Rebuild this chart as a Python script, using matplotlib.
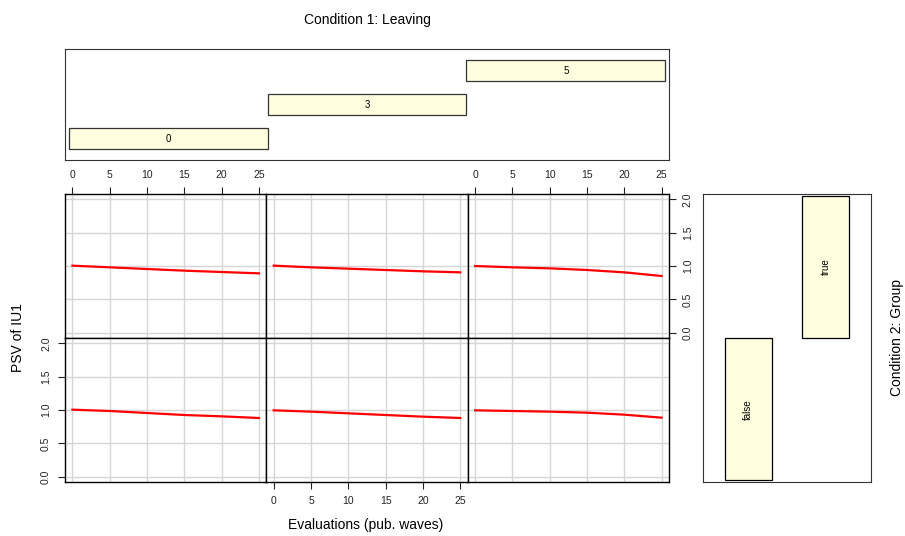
import matplotlib
matplotlib.use("Agg")
import matplotlib.pyplot as plt
import numpy as np

plt.rcParams['font.family'] = ['Liberation Sans', 'DejaVu Sans']

# data
waves = [0, 5, 10, 15, 20, 25]
leaving_levels = ["0", "3", "5"]
group_levels = ["false", "true"]
# psv[group][leaving]
psv = {
    "false": [
        [1.005, 0.985, 0.955, 0.925, 0.905, 0.88],
        [0.995, 0.975, 0.95, 0.925, 0.90, 0.88],
        [0.995, 0.985, 0.975, 0.96, 0.93, 0.885],
    ],
    "true": [
        [1.005, 0.98, 0.955, 0.93, 0.91, 0.89],
        [1.005, 0.98, 0.96, 0.94, 0.92, 0.905],
        [1.0, 0.98, 0.965, 0.94, 0.905, 0.85],
    ],
}

W, H = 905, 536
fig = plt.figure(figsize=(W / 100, H / 100), dpi=100)


def px_axes(x0, y0, x1, y1):
    return fig.add_axes([x0 / W, 1 - y1 / H, (x1 - x0) / W, (y1 - y0) / H])


bar_face = '#FFFFE0'
edge = '#333333'
tick_fs = 7.5

# top panel: Condition 1 given bars
ax = px_axes(65, 49.3, 669, 160)
n = len(leaving_levels)
ax.barh(np.arange(n), 1, left=np.arange(n), height=0.62, color=bar_face,
        edgecolor=edge, linewidth=0.9)
for i, lab in enumerate(leaving_levels):
    ax.text(i + 0.5, i, lab, ha='center', va='center', fontsize=7)
ax.set_xlim(-0.022, 3.02)
ax.set_ylim(-0.62, 2.63)
ax.set_xticks([])
ax.set_yticks([])
for s in ax.spines.values():
    s.set_color(edge)

# right panel: Condition 2 given bars
ax = px_axes(703, 194, 871, 482)
m = len(group_levels)
ax.bar(np.arange(m), 1, bottom=np.arange(m), width=0.6, color=bar_face,
       edgecolor='black', linewidth=0.9)
for i, lab in enumerate(group_levels):
    ax.text(i, i + 0.5, lab, ha='center', va='center', rotation=90, fontsize=7)
ax.set_xlim(-0.585, 1.585)
ax.set_ylim(-0.012, 2.014)
ax.set_xticks([])
ax.set_yticks([])
for s in ax.spines.values():
    s.set_color(edge)

# main panels
col_edges = [65, 266.3, 467.7, 669]
row_edges = [194, 338, 482]
rows = ["true", "false"]  # top row, bottom row
yt = [0.0, 0.5, 1.0, 1.5, 2.0]

for r, grp in enumerate(rows):
    for c in range(3):
        ax = px_axes(col_edges[c], row_edges[r], col_edges[c + 1], row_edges[r + 1])
        ax.set_xlim(-1, 26)
        ax.set_ylim(-0.08, 2.08)
        for xv in waves:
            ax.axvline(xv, color='#d6d6d6', lw=1, zorder=0)
        for yv in yt:
            ax.axhline(yv, color='#d6d6d6', lw=1, zorder=0)
        ax.plot(waves, psv[grp][c], color='red', lw=1.6, zorder=3)
        ax.set_xticks(waves)
        ax.set_yticks(yt)
        ax.set_yticklabels(["%.1f" % v for v in yt], rotation=90, va='center')
        show_top = (r == 0 and c in (0, 2))
        show_bottom = (r == 1 and c == 1)
        show_left = (r == 1 and c == 0)
        show_right = (r == 0 and c == 2)
        ax.tick_params(axis='x', direction='out', length=5, width=0.8,
                       labelsize=tick_fs, pad=5, colors='#222222',
                       top=show_top, labeltop=show_top,
                       bottom=show_bottom, labelbottom=show_bottom)
        ax.tick_params(axis='y', direction='out', length=5, width=0.8,
                       labelsize=tick_fs, pad=5, colors='#222222',
                       left=show_left, labelleft=show_left,
                       right=show_right, labelright=show_right)
        for s in ax.spines.values():
            s.set_color('black')
            s.set_linewidth(1.0)

fig.text(367 / W, 1 - 20 / H, "Condition 1: Leaving", ha='center', va='center', fontsize=10)
fig.text(366 / W, 1 - 525 / H, "Evaluations (pub. waves)", ha='center', va='center', fontsize=10)
fig.text(18 / W, 1 - 338 / H, "PSV of IU1", ha='center', va='center', rotation=90, fontsize=10)
fig.text(897 / W, 1 - 338 / H, "Condition 2: Group", ha='center', va='center', rotation=90, fontsize=10)

fig.savefig("out.png", dpi=100)
